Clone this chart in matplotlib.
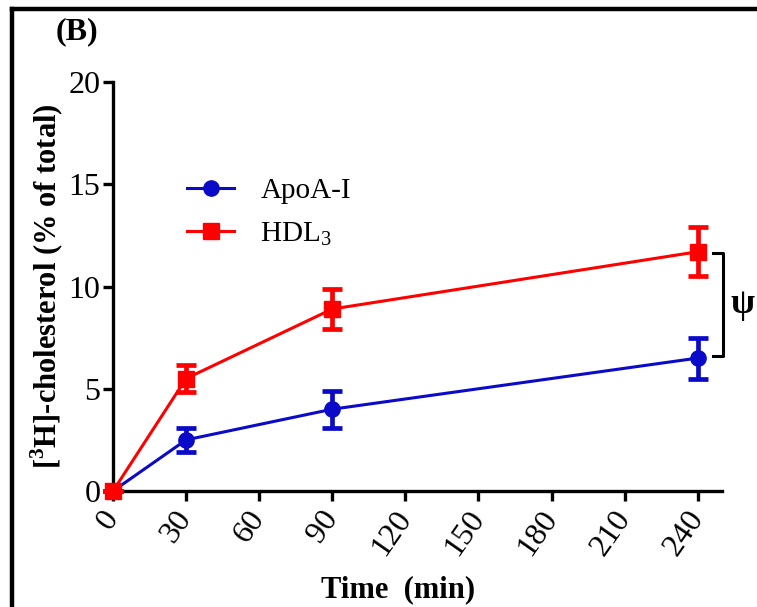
import matplotlib
matplotlib.use("Agg")
import matplotlib.pyplot as plt
from matplotlib.lines import Line2D

plt.rcParams['font.family'] = ['Liberation Serif', 'DejaVu Serif']
plt.rcParams['mathtext.fontset'] = 'custom'
plt.rcParams['mathtext.rm'] = 'Liberation Serif'
plt.rcParams['mathtext.bf'] = 'Liberation Serif:bold'

# Time points (min)
time = [0, 30, 90, 240]
# Cholesterol efflux, % of total
apoa1 = [0.0, 2.5, 4.0, 6.5]
apoa1_err = [0.0, 0.6, 0.9, 1.0]
hdl3 = [0.0, 5.5, 8.9, 11.7]
hdl3_err = [0.0, 0.65, 1.0, 1.2]

xticks = [0, 30, 60, 90, 120, 150, 180, 210, 240]
yticks = [0, 5, 10, 15, 20]

blue = '#0a0ac8'
red = '#ff0000'

fig = plt.figure(figsize=(7.57, 6.07), dpi=100)
ax = fig.add_axes([0.1493, 0.1911, 0.8045, 0.6738])

ax.errorbar(time, apoa1, yerr=apoa1_err, color=blue, marker='o', ms=11,
            lw=2.2, elinewidth=3.4, capsize=7.5, capthick=3.4, clip_on=False,
            zorder=3)
ax.errorbar(time, hdl3, yerr=hdl3_err, color=red, marker='s', ms=11,
            lw=2.2, elinewidth=3.4, capsize=7.5, capthick=3.4, clip_on=False,
            zorder=4)

ax.set_xlim(0, 250)
ax.set_ylim(0, 20)
ax.set_xticks(xticks)
ax.set_yticks(yticks)
ax.set_xticklabels([str(t) for t in xticks], rotation=55, ha='right',
                   va='center', rotation_mode='anchor')
ax.tick_params(axis='both', which='major', labelsize=23, width=2.4,
               length=7, direction='out', pad=2)
ax.tick_params(axis='x', pad=9)

for s in ['top', 'right']:
    ax.spines[s].set_visible(False)
for s in ['left', 'bottom']:
    ax.spines[s].set_linewidth(2.4)

ax.set_ylabel(r'[$^{\mathbf{3}}$H]-cholesterol (% of total)', fontsize=22,
              fontweight='bold', labelpad=2)
ax.set_xlabel('Time  (min)', fontsize=22, fontweight='bold')
ax.xaxis.set_label_coords(0.468, -0.205)

handles = [Line2D([], [], color=blue, marker='o', ms=11, lw=2.2),
           Line2D([], [], color=red, marker='s', ms=11, lw=2.2)]
ax.legend(handles, ['ApoA-I', 'HDL$_3$'], loc='upper left',
          bbox_to_anchor=(0.079, 0.83), frameon=False, fontsize=21,
          handlelength=1.6, labelspacing=0.55, handletextpad=0.9)

# significance bracket between the 240 min points
bx0, bx1 = 246.3, 250.3
by0, by1 = 11.65, 6.6
ax.add_line(Line2D([bx0, bx1, bx1, bx0], [by0, by0, by1, by1], color='black',
                   lw=2.2, clip_on=False))
ax.text(253.5, 9.1, 'ψ', fontsize=25, fontweight='bold', ha='left',
        va='center', clip_on=False)

fig.text(0.073, 0.947, '(B)', fontsize=23, fontweight='bold', ha='left',
         va='center')

# panel frame (top and left edges)
fig.add_artist(Line2D([0.0165, 1.0], [0.9855, 0.9855], color='black', lw=3.2,
                      transform=fig.transFigure))
fig.add_artist(Line2D([0.0165, 0.0165], [0.0, 0.9855], color='black', lw=3.2,
                      transform=fig.transFigure))

fig.savefig('out.png', dpi=100)
